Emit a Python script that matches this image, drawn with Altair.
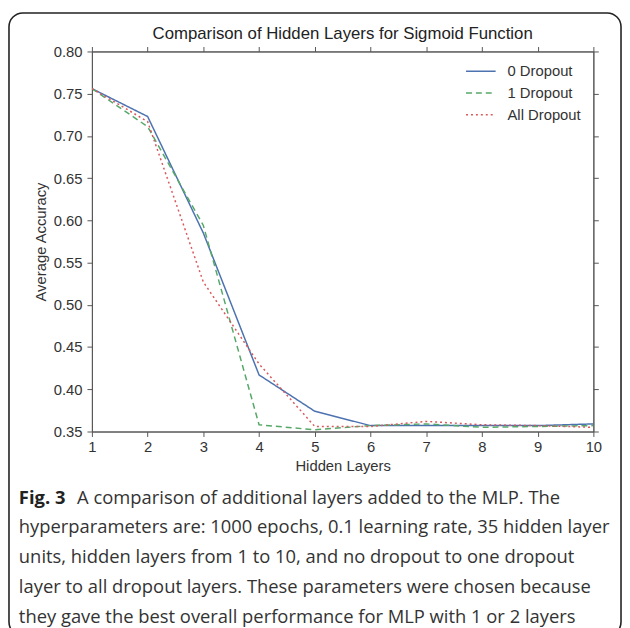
import altair as alt
import pandas as pd

layers = [1, 2, 3, 4, 5, 6, 7, 8, 9, 10]
acc_0_dropout = [0.756, 0.723, 0.585, 0.417, 0.374, 0.357, 0.357, 0.357, 0.357, 0.359]
acc_1_dropout = [0.756, 0.711, 0.594, 0.358, 0.352, 0.357, 0.359, 0.355, 0.356, 0.357]
acc_all_dropout = [0.756, 0.717, 0.527, 0.430, 0.356, 0.356, 0.362, 0.358, 0.357, 0.355]
series_names = ["0 Dropout", "1 Dropout", "All Dropout"]
series_colors = ["#4C72B0", "#55A868", "#D9585C"]
series_dashes = [[1, 0], [6, 4], [2, 3]]
y_ticks = [0.35, 0.40, 0.45, 0.50, 0.55, 0.60, 0.65, 0.70, 0.75, 0.80]

title_text = "Comparison of Hidden Layers for Sigmoid Function"
caption_bold = "Fig. 3"
caption_lines = [
    "A comparison of additional layers added to the MLP. The",
    "hyperparameters are: 1000 epochs, 0.1 learning rate, 35 hidden layer",
    "units, hidden layers from 1 to 10, and no dropout to one dropout",
    "layer to all dropout layers. These parameters were chosen because",
    "they gave the best overall performance for MLP with 1 or 2 layers",
]

rows = []
for name, vals in zip(series_names, [acc_0_dropout, acc_1_dropout, acc_all_dropout]):
    for l, v in zip(layers, vals):
        rows.append({"layers": l, "acc": v, "series": name})
df = pd.DataFrame(rows)

W, H = 508, 385
AX = "#555555"
LAB = "#333333"
AXFONT = "Liberation Sans"

xscale = alt.Scale(domain=[1, 10], nice=False, zero=False)
yscale = alt.Scale(domain=[0.35, 0.80], nice=False, zero=False)

leg = dict(title=None, orient="none", legendX=378, legendY=9,
           symbolType="stroke", symbolSize=900, symbolStrokeWidth=1.5,
           clipHeight=22, rowPadding=0, labelOffset=11, padding=0,
           labelFontSize=15, labelFont=AXFONT, labelColor=LAB)

axis_common = dict(domainColor=AX, tickColor=AX, labelColor=LAB, titleColor=LAB,
                   labelFont=AXFONT, titleFont=AXFONT, labelFontSize=15,
                   titleFontSize=15, titleFontWeight="normal", domainWidth=1,
                   tickSize=5, grid=False, labelFlush=False)

lines = alt.Chart(df).mark_line(strokeWidth=1.5, clip=True).encode(
    x=alt.X("layers:Q", scale=xscale,
            axis=alt.Axis(orient="bottom", title="Hidden Layers", values=layers, format="d",
                          labelPadding=3, titlePadding=4, **axis_common)),
    y=alt.Y("acc:Q", scale=yscale,
            axis=alt.Axis(orient="left", title="Average Accuracy", values=y_ticks,
                          format=".2f", labelPadding=5, titlePadding=5, **axis_common)),
    color=alt.Color("series:N", scale=alt.Scale(domain=series_names, range=series_colors),
                    legend=alt.Legend(**leg)),
    strokeDash=alt.StrokeDash("series:N", scale=alt.Scale(domain=series_names, range=series_dashes),
                              legend=alt.Legend(**leg)),
    detail="series:N",
)

frame = alt.Chart(df).mark_point(opacity=0).encode(
    x=alt.X("layers:Q", scale=xscale,
            axis=alt.Axis(orient="top", title=None, labels=False, values=layers, **axis_common)),
    y=alt.Y("acc:Q", scale=yscale,
            axis=alt.Axis(orient="right", title=None, labels=False, values=y_ticks, **axis_common)),
)

one = pd.DataFrame({"k": [0]})

border = alt.Chart(one).mark_rect(
    fillOpacity=0, stroke="#222222", strokeWidth=1.6, cornerRadius=14, clip=False
).encode(
    x=alt.value(-84), x2=alt.value(536), y=alt.value(-39), y2=alt.value(592)
)

title = alt.Chart(pd.DataFrame({"t": [title_text]})).mark_text(
    align="center", baseline="middle", font=AXFONT, fontSize=17,
    color="#222222"
).encode(text="t:N", x=alt.value(W / 2), y=alt.value(-18))

cap_x = -74
cap_y0 = 452
cap_dy = 30.25
cap_font = "Open Sans"
cap_size = 18.6

cap_bold = alt.Chart(pd.DataFrame({"t": [caption_bold]})).mark_text(
    align="left", baseline="middle", font=cap_font, fontSize=cap_size,
    fontWeight="bold", color="#222222"
).encode(text="t:N", x=alt.value(cap_x), y=alt.value(cap_y0))

cap_layers = []
for i, line in enumerate(caption_lines):
    xx = cap_x + 59 if i == 0 else cap_x
    cap_layers.append(
        alt.Chart(pd.DataFrame({"t": [line]})).mark_text(
            align="left", baseline="middle", font=cap_font, fontSize=cap_size,
            color="#333333"
        ).encode(text="t:N", x=alt.value(xx), y=alt.value(cap_y0 + i * cap_dy))
    )

chart = alt.layer(lines, frame, border, title, cap_bold, *cap_layers).resolve_axis(
    x="independent", y="independent"
).properties(
    width=W, height=H,
    autosize=alt.AutoSizeParams(type="none"),
    padding={"left": 85, "top": 40, "right": 29, "bottom": 195},
    background="white",
).configure_view(stroke=AX, strokeWidth=1)

chart.save("out.html", embed_options={"renderer": "svg", "actions": False})
